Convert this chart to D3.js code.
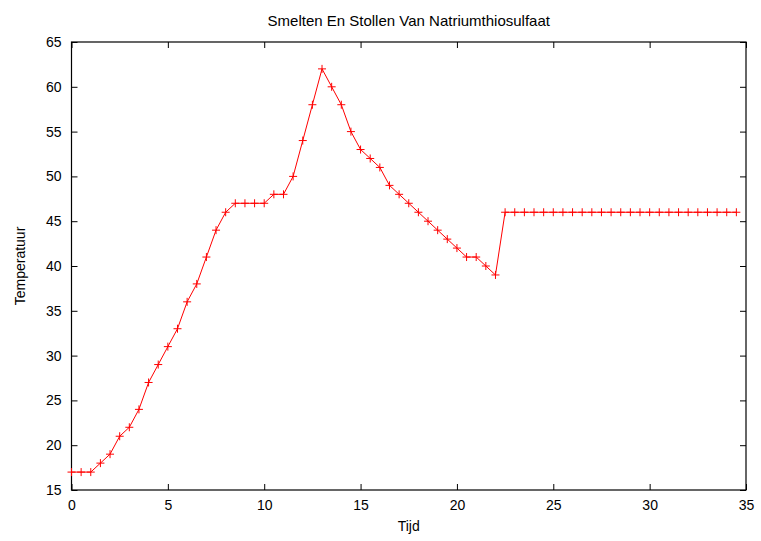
<!DOCTYPE html>
<html>
<head>
<meta charset="utf-8">
<script src="https://cdn.jsdelivr.net/npm/d3@7"></script>
<style>
  body { margin: 0; background: #fff; }
  text { font-family: "Liberation Sans", Arial, sans-serif; fill: #000; }
</style>
</head>
<body>
<div class="Chart"></div>
<script>
// time in minutes and measured temperature
var tijd = [0, 0.5, 1, 1.5, 2, 2.5, 3, 3.5, 4, 4.5, 5, 5.5, 6, 6.5, 7, 7.5, 8, 8.5, 9, 9.5,
            10, 10.5, 11, 11.5, 12, 12.5, 13, 13.5, 14, 14.5, 15, 15.5, 16, 16.5, 17, 17.5,
            18, 18.5, 19, 19.5, 20, 20.5, 21, 21.5, 22, 22.5, 23, 23.5, 24, 24.5, 25, 25.5,
            26, 26.5, 27, 27.5, 28, 28.5, 29, 29.5, 30, 30.5, 31, 31.5, 32, 32.5, 33, 33.5,
            34, 34.5];
var temperatuur = [17, 17, 17, 18, 19, 21, 22, 24, 27, 29, 31, 33, 36, 38, 41, 44, 46, 47, 47, 47,
                   47, 48, 48, 50, 54, 58, 62, 60, 58, 55, 53, 52, 51, 49, 48, 47,
                   46, 45, 44, 43, 42, 41, 41, 40, 39, 46, 46, 46, 46, 46, 46, 46,
                   46, 46, 46, 46, 46, 46, 46, 46, 46, 46, 46, 46, 46, 46, 46, 46,
                   46, 46];
var xTicks = [0, 5, 10, 15, 20, 25, 30, 35];
var yTicks = [15, 20, 25, 30, 35, 40, 45, 50, 55, 60, 65];

var width = 761, height = 541;
var margin = {top: 42, right: 15, bottom: 51, left: 71.5};
var w = width - margin.left - margin.right;
var h = height - margin.top - margin.bottom;

var svg = d3.select(".Chart").append("svg")
            .attr("width", width)
            .attr("height", height);

var g = svg.append("g")
           .attr("transform", "translate(" + margin.left + "," + margin.top + ")");

var x = d3.scaleLinear().domain([0, 35]).range([0, w]);
var y = d3.scaleLinear().domain([15, 65]).range([h, 0]);

// axes, ticks pointing inward (mirrored on top/right like gnuplot)
var tickLen = 6;
g.append("g").attr("transform", "translate(0," + h + ")")
 .call(d3.axisBottom(x).tickValues(xTicks).tickSizeInner(-tickLen).tickSizeOuter(0).tickPadding(10));
g.append("g")
 .call(d3.axisLeft(y).tickValues(yTicks).tickSizeInner(-tickLen).tickSizeOuter(0).tickPadding(10));
g.append("g")
 .call(d3.axisTop(x).tickValues(xTicks).tickSizeInner(-tickLen).tickSizeOuter(0).tickFormat(""));
g.append("g").attr("transform", "translate(" + w + ",0)")
 .call(d3.axisRight(y).tickValues(yTicks).tickSizeInner(-tickLen).tickSizeOuter(0).tickFormat(""));

g.selectAll(".domain").remove();
g.selectAll(".tick line").attr("stroke", "#000").attr("stroke-width", 1);
g.selectAll(".tick text").attr("font-size", 14).style("font-family", "Liberation Sans, Arial, sans-serif");

// frame
g.append("rect")
 .attr("x", 0).attr("y", 0)
 .attr("width", w).attr("height", h)
 .attr("fill", "none")
 .attr("stroke", "#000")
 .attr("stroke-width", 1.2);

var pts = tijd.map(function(t, i) { return [t, temperatuur[i]]; });

var line = d3.line()
             .x(function(d) { return x(d[0]); })
             .y(function(d) { return y(d[1]); });

g.append("path")
 .datum(pts)
 .attr("d", line)
 .attr("fill", "none")
 .attr("stroke", "#ff0000")
 .attr("stroke-width", 1);

// + markers
var m = 4;
g.selectAll("path.mark")
 .data(pts)
 .enter().append("path")
 .attr("class", "mark")
 .attr("d", function(d) {
   var px = x(d[0]), py = y(d[1]);
   return "M" + (px - m) + "," + py + "H" + (px + m) + "M" + px + "," + (py - m) + "V" + (py + m);
 })
 .attr("stroke", "#ff0000")
 .attr("stroke-width", 1);

// title and labels
svg.append("text")
   .attr("x", margin.left + w / 2).attr("y", 25.5)
   .attr("text-anchor", "middle")
   .attr("font-size", 15)
   .text("Smelten En Stollen Van Natriumthiosulfaat");

svg.append("text")
   .attr("x", margin.left + w / 2).attr("y", 531)
   .attr("text-anchor", "middle")
   .attr("font-size", 14)
   .text("Tijd");

svg.append("text")
   .attr("transform", "translate(25," + (margin.top + h / 2) + ") rotate(-90)")
   .attr("text-anchor", "middle")
   .attr("font-size", 14)
   .text("Temperatuur");
</script>
</body>
</html>
